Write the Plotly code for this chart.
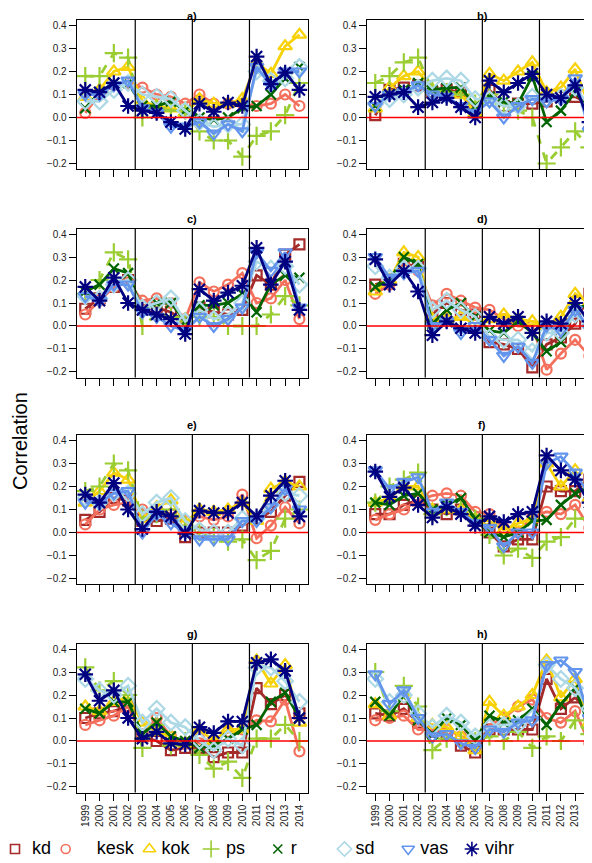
import plotly.graph_objects as go

years = list(range(1999, 2015))
panel_labels = ["a)", "b)", "c)", "d)", "e)", "f)", "g)", "h)"]
parties = ["kd", "kesk", "kok", "ps", "r", "sd", "vas", "vihr"]
period_breaks = [2002.5, 2006.5, 2010.5]
y_ticks = [-0.2, -0.1, 0.0, 0.1, 0.2, 0.3, 0.4]

# one list per party; each holds 8 panels (a..h), None = party not shown in that panel
kd_vals = [
    None,
    [0.01, 0.12, 0.13, 0.14, 0.11, 0.12, 0.11, 0.04, 0.12, 0.05, 0.06, 0.06, 0.07, 0.09, 0.09, 0.06],
    [0.075, 0.12, 0.17, 0.20, 0.09, 0.08, 0.06, 0.02, 0.08, 0.06, 0.05, 0.07, 0.22, 0.18, 0.31, 0.355],
    [0.18, 0.20, 0.27, 0.26, 0.05, 0.10, 0.07, 0.05, -0.07, -0.08, -0.10, -0.18, -0.08, -0.05, 0.01, 0.14],
    [0.055, 0.09, 0.15, 0.14, 0.05, 0.05, 0.06, -0.02, 0.00, 0.00, 0.00, 0.03, 0.06, 0.09, 0.16, 0.22],
    [0.08, 0.08, 0.12, 0.14, 0.10, 0.08, 0.10, 0.05, 0.00, -0.06, -0.03, -0.03, 0.20, 0.18, 0.18, 0.23],
    [0.10, 0.12, 0.13, 0.15, 0.02, 0.00, -0.04, -0.03, -0.03, -0.07, -0.05, -0.05, 0.23, 0.16, 0.20, 0.12],
    [0.12, 0.11, 0.14, 0.08, 0.04, 0.03, -0.02, -0.05, 0.05, 0.05, 0.05, 0.05, 0.27, 0.14, 0.19, 0.12],
]
kesk_vals = [
    [0.02, 0.10, 0.14, 0.15, 0.13, 0.10, 0.09, 0.06, 0.10, 0.06, 0.06, 0.06, 0.05, 0.06, 0.10, 0.05],
    None,
    [0.05, 0.11, 0.17, 0.19, 0.11, 0.12, 0.10, 0.03, 0.19, 0.15, 0.18, 0.23, 0.10, 0.12, 0.20, 0.03],
    [0.14, 0.18, 0.27, 0.24, 0.09, 0.14, 0.11, 0.08, 0.07, 0.03, 0.00, 0.00, -0.19, -0.12, -0.06, -0.13],
    [0.035, 0.10, 0.12, 0.13, 0.10, 0.10, 0.08, 0.05, 0.07, 0.055, 0.07, 0.165, -0.025, 0.03, 0.11, 0.04],
    [0.055, 0.08, 0.10, 0.14, 0.16, 0.17, 0.16, 0.09, 0.08, 0.02, 0.00, 0.07, 0.09, 0.08, 0.12, 0.02],
    [0.07, 0.09, 0.11, 0.15, 0.03, 0.10, 0.02, -0.01, 0.01, 0.00, 0.04, 0.05, 0.09, 0.085, 0.18, -0.045],
    [0.09, 0.10, 0.11, 0.05, 0.05, 0.05, 0.02, 0.00, 0.07, 0.10, 0.15, 0.18, 0.10, 0.08, 0.13, -0.01],
]
kok_vals = [
    [0.09, 0.12, 0.20, 0.22, 0.07, 0.05, 0.04, 0.02, 0.08, 0.06, 0.06, 0.08, 0.24, 0.19, 0.31, 0.36],
    [0.04, 0.13, 0.18, 0.20, 0.12, 0.11, 0.10, 0.02, 0.19, 0.16, 0.20, 0.24, 0.11, 0.13, 0.21, 0.05],
    None,
    [0.15, 0.20, 0.32, 0.30, 0.03, 0.03, 0.04, 0.01, 0.03, 0.05, 0.03, 0.02, 0.00, 0.04, 0.14, 0.10],
    [0.13, 0.18, 0.26, 0.23, 0.06, 0.11, 0.14, 0.04, 0.10, 0.09, 0.10, 0.13, 0.05, 0.19, 0.22, 0.20],
    [0.13, 0.15, 0.20, 0.20, 0.10, 0.10, 0.10, 0.06, 0.05, 0.01, 0.04, 0.06, 0.30, 0.20, 0.27, 0.15],
    [0.15, 0.13, 0.17, 0.19, 0.08, 0.04, 0.02, -0.01, 0.05, 0.00, 0.05, 0.05, 0.35, 0.25, 0.33, 0.08],
    [0.16, 0.11, 0.20, 0.10, 0.07, 0.06, 0.02, -0.04, 0.17, 0.11, 0.15, 0.20, 0.35, 0.19, 0.27, 0.08],
]
ps_vals = [
    [0.18, 0.18, 0.28, 0.26, 0.00, 0.04, 0.03, 0.03, -0.06, -0.10, -0.10, -0.17, -0.08, -0.06, 0.01, 0.15],
    [0.15, 0.18, 0.24, 0.26, 0.12, 0.11, 0.10, 0.06, 0.10, 0.06, 0.03, 0.00, -0.20, -0.13, -0.06, -0.13],
    [0.14, 0.20, 0.32, 0.29, 0.00, 0.05, 0.04, 0.02, 0.04, 0.04, 0.00, 0.00, 0.00, 0.05, 0.13, 0.09],
    None,
    [0.18, 0.20, 0.30, 0.27, 0.06, 0.08, 0.10, 0.03, 0.00, -0.02, -0.04, -0.03, -0.12, -0.08, 0.06, 0.10],
    [0.13, 0.20, 0.23, 0.26, 0.08, 0.11, 0.10, 0.06, -0.01, -0.10, -0.07, -0.11, -0.04, -0.02, 0.06, 0.06],
    [0.32, 0.22, 0.26, 0.20, -0.03, 0.07, -0.02, 0.00, -0.06, -0.12, -0.09, -0.16, 0.01, 0.01, 0.07, 0.00],
    [0.30, 0.13, 0.24, 0.15, -0.04, 0.01, 0.00, 0.00, 0.02, 0.00, 0.04, -0.03, 0.02, 0.00, 0.09, 0.03],
]
r_vals = [
    [0.04, 0.11, 0.15, 0.15, 0.05, 0.05, 0.07, 0.03, 0.00, -0.01, 0.00, 0.04, 0.05, 0.10, 0.17, 0.22],
    [0.05, 0.10, 0.12, 0.15, 0.12, 0.13, 0.13, 0.05, 0.09, 0.07, 0.06, 0.18, -0.02, 0.03, 0.11, 0.03],
    [0.15, 0.18, 0.25, 0.23, 0.07, 0.10, 0.10, 0.02, 0.09, 0.09, 0.10, 0.14, 0.06, 0.18, 0.22, 0.21],
    [0.17, 0.20, 0.30, 0.27, 0.01, 0.07, 0.10, 0.04, -0.02, -0.03, 0.02, -0.03, -0.11, -0.07, 0.08, 0.09],
    None,
    [0.13, 0.12, 0.16, 0.17, 0.10, 0.12, 0.15, 0.06, 0.00, -0.02, 0.00, 0.05, 0.055, 0.12, 0.17, 0.20],
    [0.14, 0.12, 0.17, 0.17, 0.03, 0.08, 0.02, 0.00, -0.03, -0.02, 0.01, 0.05, 0.07, 0.17, 0.21, 0.10],
    [0.17, 0.11, 0.20, 0.09, 0.03, 0.10, 0.07, 0.00, 0.11, 0.08, 0.09, 0.14, 0.07, 0.16, 0.23, 0.06],
]
sd_vals = [
    [0.07, 0.07, 0.12, 0.15, 0.10, 0.09, 0.08, 0.03, -0.02, -0.04, -0.03, -0.03, 0.20, 0.16, 0.17, 0.22],
    [0.06, 0.08, 0.10, 0.13, 0.16, 0.17, 0.16, 0.08, 0.08, 0.05, 0.05, 0.09, 0.08, 0.09, 0.13, 0.05],
    [0.13, 0.12, 0.18, 0.20, 0.08, 0.10, 0.12, 0.02, 0.07, 0.03, 0.05, 0.10, 0.28, 0.25, 0.26, 0.18],
    [0.26, 0.21, 0.25, 0.25, 0.07, 0.11, 0.07, 0.04, -0.05, -0.06, -0.06, -0.11, -0.03, -0.03, 0.05, 0.00],
    [0.15, 0.13, 0.17, 0.17, 0.08, 0.13, 0.15, 0.05, 0.01, 0.00, 0.00, 0.06, 0.06, 0.12, 0.17, 0.16],
    None,
    [0.27, 0.22, 0.20, 0.24, 0.08, 0.14, 0.08, 0.06, 0.00, -0.04, 0.01, -0.02, 0.32, 0.32, 0.26, 0.17],
    [0.27, 0.17, 0.20, 0.12, 0.06, 0.11, 0.08, 0.02, 0.06, 0.07, 0.07, 0.10, 0.33, 0.27, 0.23, 0.14],
]
vas_vals = [
    [0.10, 0.10, 0.14, 0.16, 0.04, 0.02, -0.04, -0.04, -0.02, -0.07, -0.03, -0.06, 0.22, 0.14, 0.20, 0.20],
    [0.05, 0.10, 0.11, 0.14, 0.10, 0.09, 0.05, 0.02, 0.07, 0.00, 0.05, 0.08, 0.07, 0.08, 0.17, -0.06],
    [0.13, 0.11, 0.18, 0.18, 0.06, 0.04, 0.00, -0.02, 0.04, 0.00, 0.03, 0.08, 0.32, 0.24, 0.32, 0.08],
    [0.30, 0.21, 0.23, 0.24, 0.00, 0.02, -0.03, 0.00, -0.06, -0.13, -0.09, -0.16, 0.00, -0.02, 0.07, -0.01],
    [0.13, 0.13, 0.17, 0.18, 0.00, 0.08, 0.04, 0.00, -0.03, -0.03, -0.03, 0.05, 0.05, 0.11, 0.19, 0.10],
    [0.27, 0.19, 0.22, 0.24, 0.09, 0.13, 0.09, 0.04, 0.02, -0.06, 0.00, 0.00, 0.30, 0.33, 0.26, 0.16],
    None,
    [0.29, 0.16, 0.22, 0.10, 0.02, 0.03, -0.01, -0.03, 0.05, 0.04, 0.08, 0.09, 0.33, 0.35, 0.30, 0.10],
]
vihr_vals = [
    [0.12, 0.11, 0.15, 0.05, 0.03, 0.02, -0.02, -0.05, 0.06, 0.025, 0.065, 0.05, 0.265, 0.145, 0.195, 0.12],
    [0.09, 0.10, 0.11, 0.045, 0.065, 0.085, 0.045, 0.00, 0.16, 0.11, 0.15, 0.19, 0.10, 0.085, 0.14, -0.02],
    [0.17, 0.11, 0.21, 0.10, 0.07, 0.05, 0.03, -0.035, 0.16, 0.11, 0.145, 0.175, 0.34, 0.18, 0.28, 0.07],
    [0.29, 0.18, 0.24, 0.15, -0.04, 0.02, -0.01, -0.03, 0.04, 0.01, 0.04, -0.03, 0.02, 0.01, 0.10, 0.02],
    [0.165, 0.13, 0.215, 0.10, 0.015, 0.09, 0.07, -0.005, 0.095, 0.085, 0.085, 0.13, 0.07, 0.16, 0.225, 0.07],
    [0.265, 0.155, 0.195, 0.12, 0.065, 0.11, 0.08, 0.03, 0.07, 0.045, 0.08, 0.09, 0.335, 0.27, 0.23, 0.13],
    [0.29, 0.175, 0.22, 0.10, 0.01, 0.04, -0.01, -0.015, 0.06, 0.035, 0.085, 0.085, 0.34, 0.355, 0.305, 0.10],
    None,
]

series_values = [kd_vals, kesk_vals, kok_vals, ps_vals, r_vals, sd_vals, vas_vals, vihr_vals]

# styles
colors = ["#A52A2A", "#F4705C", "#F7D208", "#9ACD32", "#006400", "#ADD8E6", "#6495ED", "#000080"]
symbols = ["square-open", "circle-open", "triangle-up-open", "cross-thin", "x-thin",
           "diamond-open", "triangle-down-open", "asterisk"]
msizes = [10, 10, 12, 13, 10, 12, 12, 13]
dashes = ["solid", "solid", "solid", "dash", "solid", "solid", "solid", "solid"]

FONT = "Liberation Sans, Arial, Helvetica, sans-serif"
OFF = 8                  # the page body margin puts the figure 8px from the window edge
SW, SH = 592, 863        # window size
W, H = SW - OFF, SH - OFF

# layout geometry, in window pixels from the top-left corner
col_left = [76.7, 366.7]
plot_w = 231.3
row_top = [20.0, 228.5, 435.0, 643.5]
plot_h = 149.0
x_lo, x_hi = 1998.4, 2014.6
y_lo, y_hi = -0.224, 0.424

# legend row layout (window pixels)
legend_y = 849
legend_text_x = [32 + 64.7 * i for i in range(8)]
legend_key_gap = [17, 31, 12, 15, 13, 11, 12, 13]


def fx(px):
    return (px - OFF) / W


def fy(py):
    return (H - (py - OFF)) / H


fig = go.Figure()
layout = {}
shapes = []
annotations = []

for p in range(8):
    row, col = divmod(p, 2)
    suffix = "" if p == 0 else str(p + 1)
    xa, ya = "x" + suffix, "y" + suffix
    x0px = col_left[col]
    x1px = min(x0px + plot_w, SW)
    xmax = x_lo + (x_hi - x_lo) * (x1px - x0px) / plot_w
    top = row_top[row]
    bot = top + plot_h
    layout["xaxis" + suffix] = dict(
        domain=[fx(x0px), fx(x1px)], range=[x_lo, xmax], anchor=ya,
        tickmode="array", tickvals=years, ticktext=[str(y) for y in years],
        showticklabels=(row == 3), tickangle=-90,
        ticks="outside", ticklen=7, tickwidth=1, tickcolor="black",
        showline=True, mirror=True, linecolor="black", linewidth=1.3,
        showgrid=False, zeroline=False,
        tickfont=dict(family=FONT, size=10, color="#222"),
    )
    layout["yaxis" + suffix] = dict(
        domain=[fy(bot), fy(top)], range=[y_lo, y_hi], anchor=xa,
        tickmode="array", tickvals=y_ticks, tickformat=".1f",
        ticks="outside", ticklen=7, tickwidth=1, tickcolor="black",
        showline=True, mirror=(col == 0), linecolor="black", linewidth=1.3,
        showgrid=False, zeroline=False,
        tickfont=dict(family=FONT, size=10, color="#222"),
    )
    for k, party in enumerate(parties):
        vals = series_values[k][p]
        if vals is None:
            continue
        fig.add_trace(go.Scatter(
            x=years, y=vals, xaxis=xa, yaxis=ya, mode="lines+markers",
            name=party, showlegend=False,
            line=dict(color=colors[k], width=2.8, dash=dashes[k]),
            marker=dict(symbol=symbols[k], size=msizes[k], color=colors[k],
                        line=dict(color=colors[k], width=2.2)),
        ))
    for b in period_breaks:
        shapes.append(dict(type="line", xref=xa, yref=ya + " domain", x0=b, x1=b,
                           y0=0, y1=1, line=dict(color="black", width=1.2), layer="above"))
    shapes.append(dict(type="line", xref=xa + " domain", yref=ya, x0=0, x1=1,
                       y0=0, y1=0, line=dict(color="#FF0000", width=1.5), layer="above"))
    title_shift = min(10, (top - OFF) - 8)
    annotations.append(dict(text="<b>" + panel_labels[p] + "</b>", xref=xa, yref=ya + " domain",
                            x=(x_lo + x_hi) / 2, y=1, yshift=title_shift, xanchor="center",
                            yanchor="middle", showarrow=False,
                            font=dict(family=FONT, size=11, color="black")))

# legend row drawn on an invisible full-page axis measured in window pixels
layout["xaxis9"] = dict(domain=[0, 1], range=[OFF, OFF + W], visible=False, fixedrange=True, anchor="y9")
layout["yaxis9"] = dict(domain=[0, 1], range=[OFF + H, OFF], visible=False, fixedrange=True, anchor="x9")
for k, party in enumerate(parties):
    fig.add_trace(go.Scatter(
        x=[legend_text_x[k] - legend_key_gap[k]], y=[legend_y], xaxis="x9", yaxis="y9",
        mode="markers", showlegend=False, hoverinfo="skip", cliponaxis=False,
        marker=dict(symbol=symbols[k], size=msizes[k] - 1, color=colors[k],
                    line=dict(color=colors[k], width=1.6)),
    ))
    fig.add_trace(go.Scatter(
        x=[legend_text_x[k]], y=[legend_y], xaxis="x9", yaxis="y9",
        mode="text", text=[party], textposition="middle right", showlegend=False,
        hoverinfo="skip", cliponaxis=False,
        textfont=dict(family=FONT, size=18, color="black"),
    ))

annotations.append(dict(text="Correlation", xref="paper", yref="paper", x=fx(20), y=fy(441),
                        textangle=-90, showarrow=False, xanchor="center", yanchor="middle",
                        font=dict(family=FONT, size=20, color="black")))

fig.update_layout(
    width=W, height=H,
    margin=dict(l=0, r=0, t=0, b=0, pad=0),
    paper_bgcolor="white", plot_bgcolor="rgba(0,0,0,0)",
    shapes=shapes, annotations=annotations,
    showlegend=False,
    **layout,
)

fig.write_html("out.html")
